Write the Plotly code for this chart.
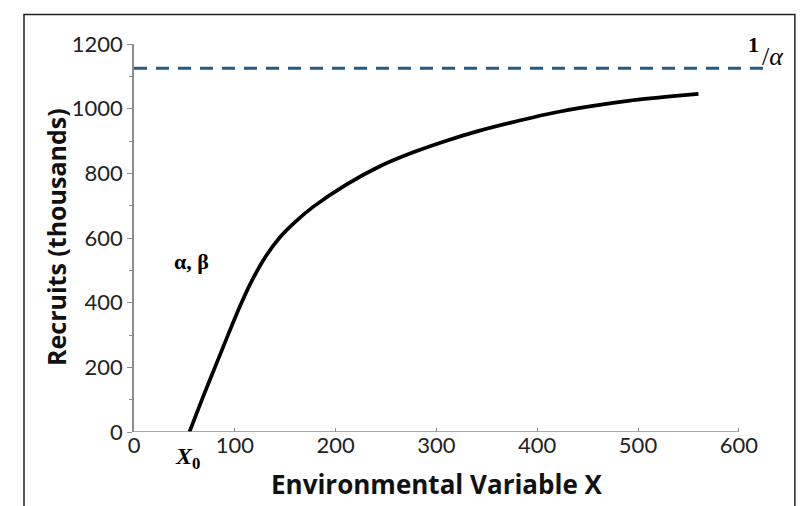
import plotly.graph_objects as go

# Curve
env_x = [55, 68, 82, 93, 105, 115, 130, 145, 160, 178, 211, 244, 277, 310, 343, 373, 413, 452, 492, 532, 560]
recruits = [0, 105, 213, 298, 388, 456, 540, 603, 650, 697, 766, 822, 865, 901, 932, 956, 985, 1007, 1025, 1038, 1046]

asymptote = 1125          # 1/alpha level
asym_x = [0, 625]
x_ticks = [0, 100, 200, 300, 400, 500, 600]
y_ticks = [0, 200, 400, 600, 800, 1000, 1200]
y_minor = [100, 300, 500, 700, 900, 1100]

fig = go.Figure()
fig.add_trace(go.Scatter(x=asym_x, y=[asymptote, asymptote], mode="lines",
                         line=dict(color="#245a84", width=3, dash="13px,9px"),
                         hoverinfo="skip", showlegend=False))
fig.add_trace(go.Scatter(x=env_x, y=recruits, mode="lines",
                         line=dict(color="black", width=3.7, shape="spline", smoothing=0.7),
                         showlegend=False))

# x axis line only up to 600
fig.add_shape(type="line", xref="x", yref="y", x0=0, x1=600, y0=0, y1=0,
              line=dict(color="#8c8c8c", width=1.5))
# outer frame
fig.add_shape(type="rect", xref="paper", yref="paper", x0=-0.1746, x1=1.049,
              y0=-0.3, y1=1.076, line=dict(color="#222", width=1.5), layer="above")

serif = "Liberation Serif, DejaVu Serif, serif"
sans = "Open Sans, Lato, sans-serif"
C = dict(xanchor="center", yanchor="middle", showarrow=False)


def px(x):
    return (x - 134) / 630


def py(y):
    return (432 - y) / 388


fig.add_annotation(xref="paper", yref="paper", x=px(187), y=py(458), **C,
                   text="<b><i>X</i><sub>0</sub></b>", font=dict(family=serif, size=24, color="black"))
fig.add_annotation(xref="x", yref="y", x=57.5, y=526, **C,
                   text="<b>α, β</b>", font=dict(family=serif, size=22, color="black"))
fig.add_annotation(xref="paper", yref="paper", x=px(753), y=py(44), **C,
                   text="<b>1</b>", font=dict(family=serif, size=22, color="black"))
fig.add_annotation(xref="paper", yref="paper", x=px(773), y=py(56), **C,
                   text="/<i>α</i>", font=dict(family=serif, size=26, color="black"))

# axis titles
fig.add_annotation(xref="paper", yref="paper", x=px(437), y=py(484), **C,
                   text="<b>Environmental Variable X</b>", font=dict(family=sans, size=26, color="#111"))
fig.add_annotation(xref="paper", yref="paper", x=px(56), y=py(237), **C,
                   textangle=-90,
                   text="<b>Recruits (thousands)</b>", font=dict(family=sans, size=25, color="#111"))

fig.update_layout(
    width=810, height=506,
    margin=dict(l=134, r=46, t=44, b=74),
    paper_bgcolor="white", plot_bgcolor="white",
    font=dict(family="Lato, Open Sans, sans-serif", color="#222"),
    xaxis=dict(range=[0, 625], tickvals=x_ticks, ticks="inside", ticklen=4, tickcolor="#8c8c8c",
               showline=False, showgrid=False, zeroline=False, tickfont=dict(size=22),
               ticklabelstandoff=-2),
    yaxis=dict(range=[0, 1200], tickvals=y_ticks, ticks="outside", ticklen=5, tickcolor="#8c8c8c",
               showline=True, linecolor="#8c8c8c", linewidth=1.5, showgrid=False, zeroline=False,
               tickfont=dict(size=22),
               minor=dict(tickvals=y_minor, ticks="outside", ticklen=3, tickcolor="#8c8c8c")),
)

fig.write_html("out.html")
